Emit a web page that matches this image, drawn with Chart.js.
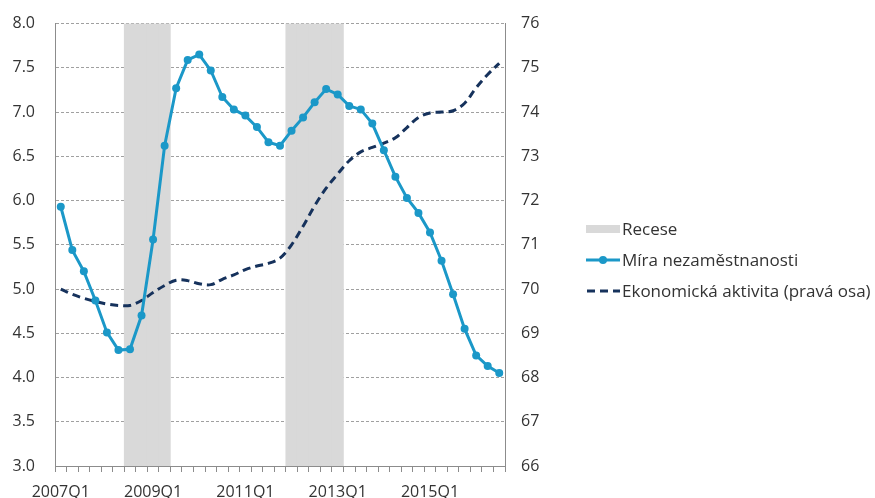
<!DOCTYPE html>
<html>
<head>
<meta charset="utf-8">
<script src="https://cdn.jsdelivr.net/npm/chart.js@4.4.0/dist/chart.umd.min.js"></script>
<style>
  html, body { margin: 0; padding: 0; background: #fff; overflow: hidden; }
  #wrap { position: relative; width: 875px; height: 498px; overflow: hidden; }
  #chart { position: absolute; left: 0; top: -6px; }
  #legend { position: absolute; left: 586px; top: 213px; font-family: "Open Sans", sans-serif; font-size: 17px; color: #333; }
  .row { display: flex; align-items: center; height: 31px; white-space: nowrap; }
  .row svg { margin-right: 2px; }
</style>
</head>
<body>
<div id="wrap">
  <canvas id="chart" width="875" height="504"></canvas>
  <div id="legend"></div>
</div>
<script>
// quarters 2007Q1 .. 2016Q3
const quarters = [];
for (let y = 2007; y <= 2016; y++) {
    for (let q = 1; q <= 4; q++) {
        if (y === 2016 && q > 3) break;
        quarters.push(y + "Q" + q);
    }
}

// unemployment rate, %, left axis
const unemployment = [
    5.93, 5.44, 5.20, 4.87, 4.51, 4.31, 4.32, 4.70, 5.56, 6.62,
    7.27, 7.59, 7.65, 7.47, 7.17, 7.03, 6.96, 6.83, 6.66, 6.62,
    6.79, 6.94, 7.11, 7.26, 7.20, 7.07, 7.03, 6.87, 6.57, 6.27,
    6.03, 5.86, 5.64, 5.32, 4.94, 4.55, 4.25, 4.13, 4.05
];

// economic activity rate, %, right axis
const activity = [
    70.00, 69.88, 69.79, 69.72, 69.66, 69.63, 69.63, 69.74, 69.92, 70.08,
    70.20, 70.19, 70.12, 70.10, 70.22, 70.32, 70.44, 70.52, 70.58, 70.70,
    71.00, 71.42, 71.88, 72.28, 72.60, 72.90, 73.10, 73.20, 73.30, 73.42,
    73.65, 73.88, 73.98, 74.00, 74.03, 74.20, 74.55, 74.85, 75.10
];

// recession quarters
const recessions = ["2008Q3", "2008Q4", "2009Q1", "2009Q2",
                    "2012Q1", "2012Q2", "2012Q3", "2012Q4", "2013Q1"];

const seriesNames = ["Recese", "Míra nezaměstnanosti", "Ekonomická aktivita (pravá osa)"];

const BLUE = "#1b98c8";
const NAVY = "#16325c";
const GREY = "#d9d9d9";

const recessionBars = quarters.map(q => recessions.includes(q) ? [3, 8] : null);

const font = { family: "'Open Sans', sans-serif", size: 16 };

new Chart(document.getElementById("chart"), {
    data: {
        labels: quarters,
        datasets: [
            {
                type: "bar",
                label: seriesNames[0],
                data: recessionBars,
                backgroundColor: GREY,
                barPercentage: 1,
                categoryPercentage: 1,
                yAxisID: "y",
                order: 3
            },
            {
                type: "line",
                label: seriesNames[2],
                data: activity,
                borderColor: NAVY,
                borderWidth: 3,
                borderDash: [8, 5],
                pointRadius: 0,
                tension: 0.35,
                fill: false,
                yAxisID: "y1",
                order: 2
            },
            {
                type: "line",
                label: seriesNames[1],
                data: unemployment,
                borderColor: BLUE,
                backgroundColor: BLUE,
                borderWidth: 3,
                pointRadius: 4,
                pointBorderWidth: 0,
                tension: 0,
                fill: false,
                yAxisID: "y",
                order: 1
            }
        ]
    },
    options: {
        responsive: false,
        animation: false,
        layout: { padding: { left: 0, right: 325, top: 10, bottom: 0 } },
        plugins: { legend: { display: false }, tooltip: { enabled: false } },
        scales: {
            x: {
                offset: true,
                grid: { display: true, offset: true, drawOnChartArea: false, drawTicks: true, tickLength: 6, color: "#8c8c8c" },
                border: { display: true, color: "#8c8c8c" },
                ticks: {
                    autoSkip: false,
                    maxRotation: 0,
                    padding: 11,
                    color: "#333",
                    font: font,
                    callback: function (v, i) { return i % 8 === 0 ? quarters[i] : ""; }
                },
                afterFit: s => { s.height = 32; }
            },
            y: {
                position: "left",
                min: 3,
                max: 8,
                grid: { color: "#a0a0a0", drawTicks: false, lineWidth: 1 },
                border: { display: true, color: "#8c8c8c", dash: [3, 2] },
                ticks: {
                    stepSize: 0.5,
                    padding: 20,
                    color: "#333",
                    font: font,
                    callback: v => v.toFixed(1)
                },
                afterFit: s => { s.width = 55; }
            },
            y1: {
                position: "right",
                min: 66,
                max: 76,
                grid: { display: false, drawTicks: false },
                border: { display: true, color: "#8c8c8c" },
                ticks: { stepSize: 1, padding: 16, color: "#333", font: font },
                afterFit: s => { s.width = 45; }
            }
        }
    }
});

// legend
const legend = document.getElementById("legend");
const swatches = [
    '<svg width="34" height="12"><rect x="0" y="2" width="34" height="8" fill="' + GREY + '"/></svg>',
    '<svg width="34" height="12"><line x1="0" y1="6" x2="34" y2="6" stroke="' + BLUE + '" stroke-width="3"/><circle cx="17" cy="6" r="4" fill="' + BLUE + '"/></svg>',
    '<svg width="34" height="12"><line x1="1" y1="6" x2="34" y2="6" stroke="' + NAVY + '" stroke-width="3" stroke-dasharray="8,5"/></svg>'
];
seriesNames.forEach((name, i) => {
    const row = document.createElement("div");
    row.className = "row";
    row.innerHTML = swatches[i] + "<span>" + name + "</span>";
    legend.appendChild(row);
});
</script>
</body>
</html>
